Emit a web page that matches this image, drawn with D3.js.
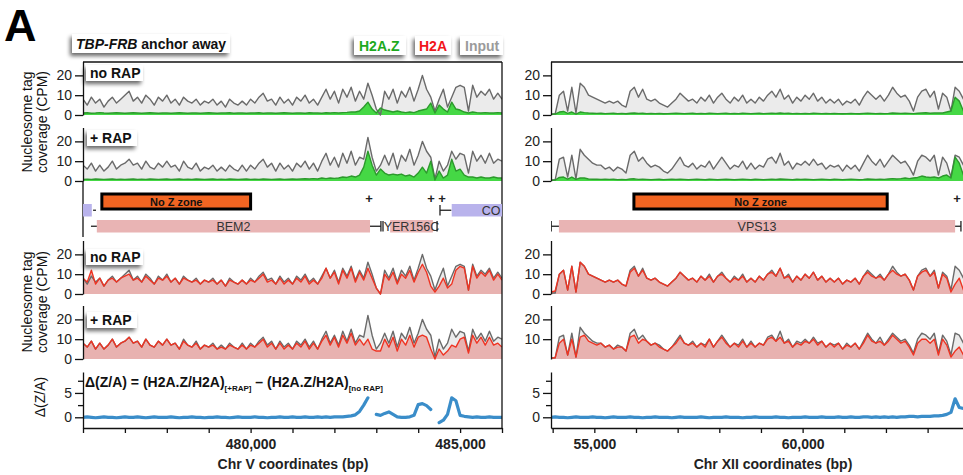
<!DOCTYPE html>
<html><head><meta charset="utf-8">
<script src="https://cdn.jsdelivr.net/npm/d3@7"></script>
<style>
body{margin:0;background:#fff}
svg{display:block}
text{font-family:"Liberation Sans",Arial,Helvetica,sans-serif}
</style>
</head><body>
<svg id="chart" width="963" height="475"></svg>
<script>
// ---------------- DATA ----------------
// sampling grid (bp)
const leftStart = 476000, rightStart = 53960, stepBp = 100;

// Chr V panel (left)
const inputNoRapL = [8,5,9,6,8,4,7,9,6,8,10,
 12,7,9,6,10,8,5,9,7,10,
 6,8,5,9,7,6,8,5,7,6,
 8,5,7,4,8,6,5,7,5,8,
 6,9,11,7,8,5,9,6,8,5,
 9,7,10,6,8,5,9,13,8,12,
 6,13,9,14,7,12,8,16,10,3,
 0,12,8,13,6,12,9,14,7,13,
 20,13,9,2,8,13,4,9,14,15,
 14,2,15,9,12,10,13,8,11,8];
const inputRapL = [8,6,9,5,8,5,7,10,6,8,9,
 11,8,9,6,10,7,6,9,7,10,
 7,8,5,10,7,6,9,5,7,6,
 8,5,7,5,8,6,5,8,5,8,
 6,9,11,7,9,5,9,6,8,5,
 9,7,10,6,9,5,10,14,8,12,
 7,14,9,15,8,12,11,22,12,5,
 8,13,8,14,6,13,10,16,8,13,
 20,15,12,1,10,5,8,15,11,14,
 13,4,15,10,13,9,14,9,11,10];
const h2azNoRapL = [1,1.1,0.9,1,1.2,1,0.9,1,1.1,1,0.9,
 1,1.1,1,0.9,1,1.1,1,0.9,1,1,
 0.9,1,1.1,1,0.9,1,1,0.9,1,1.1,
 1,0.9,1,1,1.1,0.9,1,1,0.9,1,
 1,1.1,0.9,1,1,0.9,1,1.1,1,0.9,
 1,1,0.9,1.1,1,1,0.9,1.1,1,1.2,
 1,1.2,1.3,1.5,1.5,2,4,6.5,3,1,
 3.5,2.5,2,1.5,2,1.5,1.2,1.5,1.2,2,
 2.5,3,6,1,5,3,1.5,6.5,3,2.5,
 1.5,1,1.5,1.2,1,1.2,1,1,1.2,1];
const h2azRapL = [0.8,0.9,0.8,1,0.9,0.8,0.9,1,0.8,0.9,0.8,
 0.9,1,0.8,0.9,0.8,1,0.9,0.8,0.9,1,
 0.8,0.9,1,0.8,0.9,0.8,1,0.9,0.8,0.9,
 1,0.8,0.9,0.8,1,0.9,0.8,0.9,1,0.8,
 0.9,0.8,1,0.9,0.8,0.9,1,0.8,0.9,1,
 0.9,1,1.1,1,1.2,1,1.5,1.2,1.5,1.3,
 1.5,2,1.8,2.5,2,3,7,15,8,3,
 6,4,3,3.5,3,3.5,2.5,3,2,4,
 7,4,10,0.5,5,1.5,3,11,5,6,
 3,2,2,1.5,2,1.5,1.5,2,1.5,1.5];
const h2aNoRapL = [8,6,12,5,8,4,7,8,6,8,9,
 10,7,8,6,9,7,5,8,7,9,
 6,8,5,8,7,6,7,5,7,6,
 7,5,7,4,7,6,5,7,5,7,
 6,8,10,6,7,5,8,5,7,5,
 8,6,9,5,7,5,8,13,8,11,
 5,12,8,13,6,11,7,13,8,3,
 0,10,7,11,5,10,8,12,6,11,
 15,11,4,1,4,8,3,5,12,14,
 13,2,14,8,11,9,12,7,10,7];
const h2aRapL = [8,6,9,5,8,5,7,10,6,8,9,
 11,8,9,6,10,7,6,9,7,10,
 7,8,5,9,7,6,8,5,7,6,
 7,5,6,5,7,6,5,7,5,7,
 6,8,10,6,8,5,8,5,7,5,
 8,6,9,5,8,5,9,12,7,11,
 6,12,8,13,7,10,7,10,5,4,
 4,10,6,11,4,10,7,12,6,11,
 12,11,5,0,5,2,4,7,6,10,
 11,3,12,8,11,7,11,7,8,6];
const deltaL = [0,0.1,0,-0.1,0,0.1,0,0,-0.1,0,0.1,
 0,0,0.1,0,-0.1,0,0.1,0,0,0,
 0.1,0,-0.1,0,0,0.1,0,0,-0.1,0,
 0,0.1,0,0,-0.1,0,0.1,0,0,0,
 0.1,0,0,-0.1,0,0,0.1,0,0,0.1,
 0,0,0.1,0,0,0.1,0,0.1,0,0.1,
 0.1,0.1,0.2,0.3,0.5,1.2,2.5,4,null,0.6,
 0.4,0.8,1.1,0.6,0.1,0,0,0.1,0.4,2.6,
 2.8,2.4,1.6,null,-1.1,-0.6,0.6,4,3.4,0.4,
 0.2,0.1,0,0.1,0,0,0.1,0,0,0];

// Chr XII panel (right)
const inputNoRapR = [0.5,0.5,10,12,2,14,1,16,14,10,9,
 8,7,6,7,6,7,5,4,12,14,
 9,13,8,7,8,6,5,4,6,8,
 11,9,7,8,6,9,7,10,6,9,
 11,8,6,9,7,10,6,8,6,9,
 7,10,12,9,13,8,10,6,9,7,
 10,8,11,7,9,6,8,6,8,5,
 7,6,8,5,9,12,10,8,10,7,
 10,14,11,9,10,7,2,9,12,13,
 9,12,3,11,9,2,14,12,8,10];
const inputRapR = [0.5,0.6,11,12,2,13,1,16,13,11,9,
 8,8,6,7,5,7,6,4,13,15,
 10,12,9,7,8,7,5,4,6,9,
 12,8,7,9,6,8,7,10,6,9,
 12,9,6,8,7,10,6,9,6,8,
 7,11,12,9,14,8,10,6,9,8,
 10,8,11,8,9,6,8,7,8,5,
 8,6,8,5,9,13,10,8,11,7,
 10,13,11,9,10,7,3,10,13,12,
 10,13,3,12,9,2,13,12,8,10];
const h2azNoRapR = [0.3,0.5,1.5,1.8,0.8,1.5,0.5,1.5,1.2,1,0.9,
 0.8,0.9,0.7,0.8,0.9,0.7,0.8,0.6,0.9,1,
 0.8,0.9,0.7,0.8,0.7,0.8,0.6,0.7,0.8,0.9,
 0.8,0.7,0.8,0.9,0.7,0.8,0.7,0.9,0.8,0.7,
 0.8,0.9,0.7,0.8,0.7,0.9,0.8,0.7,0.8,0.9,
 0.7,0.8,0.9,0.8,1,0.8,0.9,0.7,0.8,0.7,
 0.8,0.7,0.9,0.8,0.7,0.8,0.7,0.8,0.7,0.6,
 0.7,0.8,0.7,0.6,0.8,0.9,0.8,0.7,0.8,0.7,
 0.8,1,0.9,0.8,0.9,0.8,0.7,0.9,1,1.1,
 0.9,1,1,1,1.5,2,9,7,2,1];
const h2azRapR = [0.3,0.5,1.8,2,1,2,0.8,1.5,1.5,1,0.9,
 0.9,0.8,0.9,0.8,0.9,0.7,0.8,0.7,1,1.1,
 0.8,0.9,0.8,0.7,0.8,0.9,0.7,0.8,0.9,0.8,
 0.9,0.8,0.7,0.8,0.9,0.8,0.7,0.9,0.8,0.7,
 0.8,0.9,0.8,0.7,0.8,0.9,0.8,0.7,0.9,0.8,
 0.7,0.8,0.9,0.8,1,0.9,0.8,0.7,0.9,0.8,
 0.9,0.8,0.7,0.8,0.9,0.8,0.7,0.9,0.8,0.7,
 0.8,0.9,0.8,0.7,0.8,1,0.9,0.8,0.9,0.8,
 1,1.2,1,1.2,1.5,1.2,1.5,1.8,2.5,2,
 1.8,2,1.5,2.5,3,1.5,12,9,3,1];
const h2aNoRapR = [1,1.5,10,12,2,14,1,16,14,10,9,
 8,7,6,7,6,7,5,4,11,13,
 9,12,8,7,8,6,5,4,6,8,
 11,9,7,8,6,9,7,9,6,9,
 10,8,6,8,7,9,6,8,6,9,
 7,10,11,9,13,8,9,6,9,7,
 10,8,11,7,9,6,8,6,8,5,
 7,6,8,5,9,11,9,8,9,7,
 10,12,10,9,10,7,2,9,11,12,
 9,11,3,10,8,1,5,8,2,0];
const h2aRapR = [0.5,0.6,8,10,2,10,1,11,12,9,8,
 7,8,6,7,5,6,6,4,11,12,
 8,10,9,7,8,6,5,4,6,8,
 11,8,7,8,6,8,6,10,6,9,
 11,8,6,8,6,9,6,8,6,8,
 7,10,11,9,11,8,9,6,8,7,
 9,8,10,7,9,6,8,6,8,5,
 7,6,8,5,8,12,9,8,9,7,
 9,12,10,8,9,6,2,8,10,10,
 8,10,2,10,7,1,4,6,2,1];
const deltaR = [0,0.1,0,0,-0.1,0,0.1,0,0,0,0.1,
 0,0,-0.1,0,0.1,0,0,0,0.1,0,
 0,-0.1,0,0,0.1,0,0,0,-0.1,0,
 0.1,0,0,0,0,0.1,0,-0.1,0,0,
 0,0.1,0,0,0,-0.1,0,0,0.1,0,
 0,0,0,0.1,0,0,-0.1,0,0,0,
 0.1,0,0,0,0.1,0,0,0,0.1,0,
 0,0.1,0,0,0.1,0.1,0,0.1,0,0.1,
 0,0.1,0,0.1,0.1,0.2,0.2,0.1,0.2,0.2,
 0.2,0.3,0.3,0.4,0.6,1,3.8,2,1.8,1.6];

// Annotations (bp)
const genesL = [
  {name:"", start:475800, end:476210, row:1, kind:"minus"},
  {name:"BEM2", start:476330, end:482850, row:2, kind:"plus"},
  {name:"YER156C", start:483330, end:484350, row:2, kind:"plus"},
  {name:"CO", start:484800, end:487500, row:1, kind:"minus", labelAt:485740}
];
const genesR = [
  {name:"VPS13", start:54150, end:63660, row:2, kind:"plus"}
];
const noZoneL = [476450, 480000];
const noZoneR = [55950, 62030];
const plusMarksL = [482826, 484306, 484570];
const plusMarksR = [63706];
// small gene end whiskers: [from, to, row, capAt]
const whiskersL = [[476240,476310,1,null],[476190,476330,2,null],[482850,483110,2,483110],[483160,483160,2,483160],[484450,484450,2,484450],[484520,484790,1,484520]];
const whiskersR = [[53965,54150,2,53965],[63660,63800,2,63800]];

const xTicksL = [476000,477000,478000,479000,480000,481000,482000,483000,484000,485000,486000];
const xTicksR = [54000,55000,56000,57000,58000,59000,60000,61000,62000,63000];
const covTicks = [0,10,20];
const deltaTicks = [0,2.5,5,7.5];

// ---------------- DRAW ----------------
const svg = d3.select("#chart");
const defs = svg.append("defs");
const f = defs.append("filter").attr("id","shadow").attr("x","-40%").attr("y","-40%").attr("width","180%").attr("height","200%");
f.append("feGaussianBlur").attr("in","SourceAlpha").attr("stdDeviation",2.2).attr("result","b");
f.append("feOffset").attr("in","b").attr("dx",-2.5).attr("dy",2.5).attr("result","o");
f.append("feComponentTransfer").attr("in","o").attr("result","s").append("feFuncA").attr("type","linear").attr("slope",0.6);
const fm = f.append("feMerge"); fm.append("feMergeNode").attr("in","s"); fm.append("feMergeNode").attr("in","SourceGraphic");

const COL = {inFill:"#ebebeb", inLine:"#6a6a6a", zFill:"#45d845", zLine:"#2c9a2c",
  aFill:"#e8b2b0", aLine:"#ef3322", delta:"#3a8dc9", orange:"#f26522",
  genePink:"#e9b4b4", genePurple:"#b9b3ec"};

const xL = d3.scaleLinear().domain([476000,486000]).range([83,502]);
const xR = d3.scaleLinear().domain([53960,63960]).range([551,967.6]);
const trackBases = [115,181,294,359];
const trackH = 53.5;

function grid(start, n){ return d3.range(n).map(i => start + i*stepBp); }

let clipN = 0;
function clipRect(x0, x1, y0, y1){
  const id = "clip"+(clipN++);
  defs.append("clipPath").attr("id",id).append("rect").attr("x",x0).attr("y",y0).attr("width",x1-x0).attr("height",y1-y0);
  return id;
}

function styleAxis(g, size, weight){
  g.selectAll("path.domain").attr("stroke","#111").attr("stroke-width",1.3);
  g.selectAll(".tick line").attr("stroke","#111").attr("stroke-width",1.3);
  g.selectAll(".tick text").attr("fill","#222").attr("font-size",size).attr("font-weight",weight)
   .attr("font-family",'"Liberation Sans",Arial,sans-serif');
}

function coverage(x, base, input, signal, fillC, lineC, ticks){
  const pos = grid(x.domain()[0], input.length);
  const y = d3.scaleLinear().domain([0,27]).range([base, base-trackH]);
  const r = x.range();
  const id = clipRect(r[0], Math.min(r[1],963), base-trackH-2, base+1);
  const g = svg.append("g").attr("clip-path",`url(#${id})`);
  const areaIn = d3.area().x((d,i)=>x(pos[i])).y0(y(0)).y1(d=>y(d));
  const lineF = d3.line().x((d,i)=>x(pos[i])).y(d=>y(d));
  g.append("path").datum(input).attr("d",areaIn).attr("fill",COL.inFill);
  g.append("path").datum(signal).attr("d",areaIn).attr("fill",fillC);
  g.append("path").datum(input).attr("d",lineF).attr("fill","none").attr("stroke",COL.inLine).attr("stroke-width",1.4).attr("stroke-linejoin","round");
  g.append("path").datum(signal).attr("d",lineF).attr("fill","none").attr("stroke",lineC).attr("stroke-width",1.4).attr("stroke-linejoin","round");
  const ax = svg.append("g").attr("transform",`translate(${r[0]},0)`)
    .call(d3.axisLeft(y).tickValues(ticks).tickSize(8).tickSizeOuter(0).tickPadding(3));
  styleAxis(ax, 14, 400);
}

// left panel tracks
coverage(xL, trackBases[0], inputNoRapL, h2azNoRapL, COL.zFill, COL.zLine, covTicks);
coverage(xL, trackBases[1], inputRapL, h2azRapL, COL.zFill, COL.zLine, covTicks);
coverage(xL, trackBases[2], inputNoRapL, h2aNoRapL, COL.aFill, COL.aLine, covTicks);
coverage(xL, trackBases[3], inputRapL, h2aRapL, COL.aFill, COL.aLine, covTicks);
// right panel tracks
coverage(xR, trackBases[0], inputNoRapR, h2azNoRapR, COL.zFill, COL.zLine, covTicks);
coverage(xR, trackBases[1], inputRapR, h2azRapR, COL.zFill, COL.zLine, covTicks);
coverage(xR, trackBases[2], inputNoRapR, h2aNoRapR, COL.aFill, COL.aLine, covTicks);
coverage(xR, trackBases[3], inputRapR, h2aRapR, COL.aFill, COL.aLine, [10,20]);

// delta tracks
function deltaTrack(x, vals){
  const pos = grid(x.domain()[0], vals.length);
  const y = d3.scaleLinear().domain([-2.2,9.3]).range([428,372]);
  const r = x.range();
  const id = clipRect(r[0], Math.min(r[1],963), 372, 428);
  svg.append("g").attr("clip-path",`url(#${id})`).append("path").datum(vals)
    .attr("d", d3.line().defined(d=>d!==null).x((d,i)=>x(pos[i])).y(d=>y(d)))
    .attr("fill","none").attr("stroke",COL.delta).attr("stroke-width",3.2).attr("stroke-linecap","round").attr("stroke-linejoin","round");
  const ax = svg.append("g").attr("transform",`translate(${r[0]},0)`)
    .call(d3.axisLeft(y).tickValues(deltaTicks).tickSize(8).tickSizeOuter(0).tickPadding(3)
      .tickFormat(d => (d===0||d===5) ? d : ""));
  ax.selectAll(".tick").filter(d => d===2.5||d===7.5).select("line").attr("x2",-5);
  styleAxis(ax, 14, 400);
}
deltaTrack(xL, deltaL);
deltaTrack(xR, deltaR);

// x axes
function xAxis(x, ticks, title, titleX){
  const ax = svg.append("g").attr("transform","translate(0,428)")
    .call(d3.axisBottom(x).tickValues(ticks).tickSize(5).tickSizeOuter(0).tickPadding(6)
      .tickFormat(d => d%5000===0 ? d3.format(",")(d) : ""));
  styleAxis(ax, 14, 700);
  svg.append("text").attr("x",titleX).attr("y",469).attr("text-anchor","middle")
    .attr("font-size",14).attr("font-weight",700).attr("fill","#222").text(title);
}
xAxis(xL, xTicksL, "Chr V coordinates (bp)", 293);
xAxis(xR, xTicksR, "Chr XII coordinates (bp)", 773);

// frames
const line = (x1,y1,x2,y2) => svg.append("line").attr("x1",x1).attr("y1",y1).attr("x2",x2).attr("y2",y2).attr("stroke","#111").attr("stroke-width",1.3);
line(xL.range()[0], 62, xL.range()[1], 62);
line(xL.range()[1], 62, xL.range()[1], 428);
line(xR.range()[0], 62, 963, 62);
line(xL.range()[0], 181, xL.range()[0], 237);

// annotations
const rowY = {1:[204,216.5], 2:[220,232.5]};
function annot(x, genes, noZone, plus, whisk){
  const r = x.range();
  const id = clipRect(r[0], Math.min(r[1],963), 185, 240);
  const g = svg.append("g").attr("clip-path",`url(#${id})`);
  genes.forEach(gn => {
    const [y0,y1] = rowY[gn.row];
    g.append("rect").attr("x",x(gn.start)).attr("y",y0).attr("width",x(gn.end)-x(gn.start)).attr("height",y1-y0)
      .attr("fill", gn.row===1 ? COL.genePurple : COL.genePink);
    if(gn.name){
      const cx = gn.labelAt!==undefined ? gn.labelAt : (gn.start+gn.end)/2;
      g.append("text").attr("x",x(cx)).attr("y",(y0+y1)/2+4.3).attr("text-anchor","middle")
        .attr("font-size",12.5).attr("fill","#333").text(gn.name);
    }
  });
  whisk.forEach(([a,b,row,cap]) => {
    const [y0,y1] = rowY[row]; const ym = (y0+y1)/2;
    if(a!==b) g.append("line").attr("x1",x(a)).attr("x2",x(b)).attr("y1",ym).attr("y2",ym).attr("stroke","#222").attr("stroke-width",1.3);
    if(cap!==null) g.append("line").attr("x1",x(cap)).attr("x2",x(cap)).attr("y1",y0+1).attr("y2",y1-1).attr("stroke","#222").attr("stroke-width",1.3);
  });
  plus.forEach(p => {
    g.append("text").attr("x",x(p)).attr("y",203).attr("text-anchor","middle").attr("font-size",13).attr("font-weight",700).attr("fill","#222").text("+");
  });
  g.append("rect").attr("x",x(noZone[0])).attr("y",194).attr("width",x(noZone[1])-x(noZone[0])).attr("height",15)
    .attr("fill",COL.orange).attr("stroke","#000").attr("stroke-width",3);
  g.append("text").attr("x",x((noZone[0]+noZone[1])/2)).attr("y",205.5).attr("text-anchor","middle")
    .attr("font-size",11).attr("font-weight",700).attr("fill","#111").text("No Z zone");
}
annot(xL, genesL, noZoneL, plusMarksL, whiskersL);
annot(xR, genesR, noZoneR, plusMarksR, whiskersR);

// labels with shadow boxes
function tag(x, y, w, h, parts, tx, ty, size){
  svg.append("rect").attr("x",x).attr("y",y).attr("width",w).attr("height",h).attr("fill","#fff").attr("filter","url(#shadow)");
  const t = svg.append("text").attr("x",tx).attr("y",ty).attr("font-size",size||14).attr("font-weight",700);
  parts.forEach(p => t.append("tspan").attr("fill",p.c||"#111").attr("font-style",p.i?"italic":null).text(p.t));
}
tag(72,34,158,19,[{t:"TBP-FRB",i:true},{t:" anchor away"}],76,49);
tag(354,36,52,19,[{t:"H2A.Z",c:"#1daa1d"}],359,50.5);
tag(415,36,36,19,[{t:"H2A",c:"#f2161a"}],419,50.5);
tag(460,36,43,19,[{t:"Input",c:"#9b9b9b"}],465,50.5);
tag(86,65,57,16,[{t:"no RAP"}],90,78);
tag(87,130,50,16,[{t:"+ RAP"}],90,143);
tag(86,249,57,16,[{t:"no RAP"}],90,262);
tag(87,312,50,16,[{t:"+ RAP"}],90,325);

// panel letter
svg.append("text").attr("x",4).attr("y",41).attr("font-size",45).attr("font-weight",700).attr("fill","#000").text("A");

// y titles
function yTitle(cx, cy, lines, size){
  const t = svg.append("text").attr("transform",`translate(${cx},${cy}) rotate(-90)`).attr("text-anchor","middle")
    .attr("font-size",size).attr("fill","#111");
  lines.forEach((l,i)=> t.append("tspan").attr("x",0).attr("y", i*14.5).text(l));
}
yTitle(32, 122, ["Nucleosome tag","coverage (CPM)"], 14);
yTitle(32, 302, ["Nucleosome tag","coverage (CPM)"], 14);
yTitle(45, 397, ["\u0394(Z/A)"], 14);

// delta formula
const ft = svg.append("text").attr("x",85).attr("y",387).attr("font-size",14).attr("font-weight",700).attr("fill","#111");
ft.append("tspan").text("\u0394(Z/A) = (H2A.Z/H2A)");
ft.append("tspan").attr("font-size",8).attr("dy",4).text("[+RAP]");
ft.append("tspan").attr("dy",-4).text(" \u2013 (H2A.Z/H2A)");
ft.append("tspan").attr("font-size",8).attr("dy",4).text("[no RAP]");
</script>
</body></html>
